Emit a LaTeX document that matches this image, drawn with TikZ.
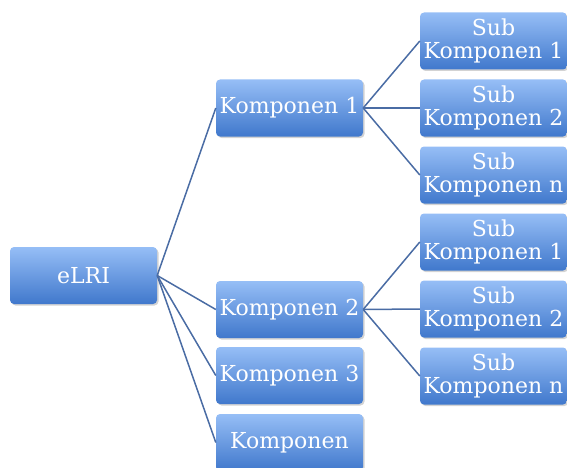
\documentclass[tikz,border=0pt]{standalone}
\usepackage{fontspec}
\setmainfont{DejaVu Serif}
\usetikzlibrary{shadows}
\definecolor{boxtop}{RGB}{150,190,246}
\definecolor{boxbot}{RGB}{64,120,204}
\definecolor{linkc}{RGB}{74,108,164}
\tikzset{
  box/.style={rectangle, rounded corners=4pt, minimum width=147pt, minimum height=57pt,
    inner sep=0pt, top color=boxtop, bottom color=boxbot, text=white, align=center,
    font=\fontsize{22}{23}\selectfont,
    drop shadow={shadow xshift=1.5pt, shadow yshift=-1.5pt, opacity=0.35, fill=gray}},
  link/.style={draw=linkc, line width=1.5pt}
}
\begin{document}
\begin{tikzpicture}[x=1pt,y=-1pt]
\useasboundingbox (0,0) rectangle (567,468);
\begin{scope}
\clip (0,0) rectangle (567,468);
\node[box] (e) at (83.5,275.5) {eLRI};
\node[box] (k1) at (289.5,108) {Komponen 1};
\node[box] (k2) at (289.5,309.5) {Komponen 2};
\node[box] (k3) at (289.5,375.5) {Komponen 3};
\node[box] (k4) at (289.5,442.5) {Komponen};
\node[box] (s11) at (493.5,41) {Sub\\Komponen 1};
\node[box] (s12) at (493.5,108) {Sub\\Komponen 2};
\node[box] (s1n) at (493.5,175) {Sub\\Komponen n};
\node[box] (s21) at (493.5,242) {Sub\\Komponen 1};
\node[box] (s22) at (493.5,309) {Sub\\Komponen 2};
\node[box] (s2n) at (493.5,376) {Sub\\Komponen n};
\foreach \t in {k1,k2,k3,k4} \draw[link] (e.east) -- (\t.west);
\foreach \t in {s11,s12,s1n} \draw[link] (k1.east) -- (\t.west);
\foreach \t in {s21,s22,s2n} \draw[link] (k2.east) -- (\t.west);
\end{scope}
\end{tikzpicture}
\end{document}
